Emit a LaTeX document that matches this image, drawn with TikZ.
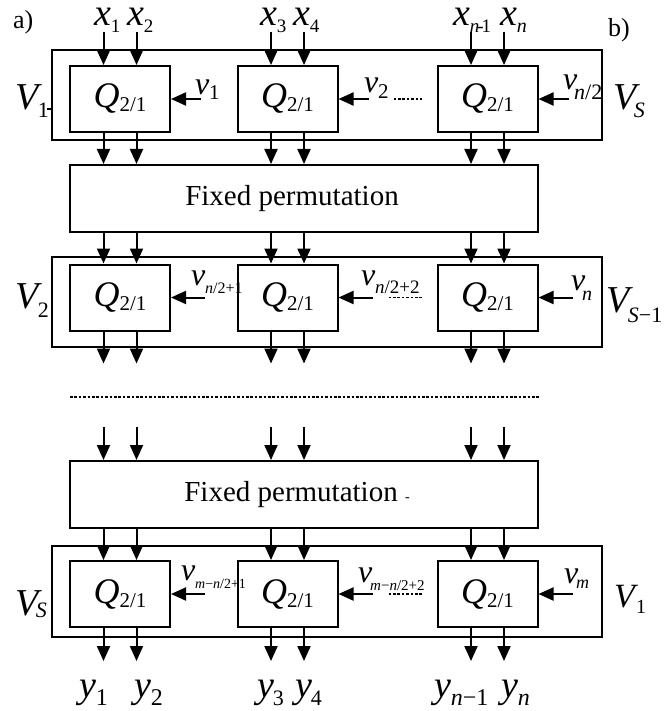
\documentclass[tikz,border=0pt]{standalone}
\usepackage{fontspec}
\setmainfont{Liberation Serif}
\usetikzlibrary{arrows.meta}
\usetikzlibrary{calc}
\usetikzlibrary{math}

% lowered index of a given size
\newcommand{\idx}[3][10]{\raisebox{#2}{\fontsize{#1}{#1}\selectfont #3}}
\newcommand{\qlab}[1]{\textit{Q}\kern#1\idx[10.5]{-2pt}{2/1}}

\tikzset{
  sig/.style={-{Triangle[length=7.5pt,width=6.5pt]}, line width=1pt},
  dots/.style={line width=0.8pt, dash pattern=on 1.3pt off 0.9pt},
  layer/.style={draw, line width=1pt, minimum width=275pt, inner sep=0pt},
  qbox/.style={draw, line width=1pt, minimum width=50pt, minimum height=33pt,
    inner sep=0pt, font=\fontsize{18}{18}\selectfont},
  permbox/.style={draw, line width=1pt, minimum width=234pt, minimum height=33.5pt,
    inner sep=0pt, font=\fontsize{14.5}{14.5}\selectfont},
  big/.style={font=\fontsize{19}{19}\selectfont, inner sep=0pt, anchor=base west},
  low/.style={big, text height=9.5pt},
  key/.style={font=\fontsize{16}{16}\selectfont, inner sep=0pt, anchor=base west},
  tag/.style={font=\fontsize{13}{13}\selectfont, inner sep=0pt, anchor=base west},
}

\begin{document}
\begin{tikzpicture}[x=0.5pt,y=-0.5pt,line width=1pt]

  \tikzmath{
    \tap  = 16.5; % half distance between the two lines of a box
    \lead = 33;   % length of the free input/output lines
  }

  \useasboundingbox (0,0) rectangle (672,711);

  % frames of the three layers
  \node[layer, minimum height=45pt]   (L1) at (327,95) {};
  \node[layer, minimum height=45pt]   (L2) at (327,302) {};
  \node[layer, minimum height=45.5pt] (L3) at (327,591.5) {};
  \draw ([yshift=-7pt]L1.west) -- ++(-4,0);

  % Q boxes, row r and column c
  \foreach \r/\h in {1/99, 2/297.5, 3/594}{
    \node[qbox] (q\r1) at (120,\h)   {\qlab{0pt}};
    \node[qbox] (q\r2) at (287.5,\h) {\qlab{0pt}};
    \node[qbox] (q\r3) at (487.5,\h) {\qlab{0pt}};
  }

  % permutation blocks
  \node[permbox] (P1) at (304,198.5) {Fixed permutation\kern12pt};
  \node[permbox] (P2) at (304,494.5) {Fixed permutation {\fontsize{7}{7}\selectfont -}\kern7pt};

  % vertical lines through all the blocks
  \foreach \c in {1,2,3}{
    \foreach \s in {-1,1}{
      \coordinate (t\c\s) at ($(q1\c.north)+(\s*\tap,0)$);
      \coordinate (in\c\s)  at ($(t\c\s |- q1\c.north)+(0,-\lead)$);
      \coordinate (out\c\s) at ($(t\c\s |- q2\c.south)+(0,32)$);
      \coordinate (re\c\s)  at ($(t\c\s |- P2.north)+(0,-\lead)$);
      \coordinate (end\c\s) at ($(t\c\s |- q3\c.south)+(0,\lead)$);
      \draw[sig] (in\c\s) -- (t\c\s |- q1\c.north);
      \draw[sig] (t\c\s |- q1\c.south) -- (t\c\s |- P1.north);
      \draw[sig] (t\c\s |- P1.south) -- (t\c\s |- q2\c.north);
      \draw[sig] (t\c\s |- q2\c.south) -- (out\c\s);
      \draw[sig] (re\c\s) -- (t\c\s |- P2.north);
      \draw[sig] (t\c\s |- P2.south) -- (t\c\s |- q3\c.north);
      \draw[sig] (t\c\s |- q3\c.south) -- (end\c\s);
    }
  }

  % side inputs v
  \foreach \r/\l in {1/30, 2/34, 3/34}{
    \foreach \c in {1,2,3}{
      \coordinate (s\r\c) at ($(q\r\c.east)+(\l,0)$);
      \draw[sig] (s\r\c) -- (q\r\c.east);
    }
  }
  \foreach \r/\a in {1/55, 2/50, 3/50}
    \draw[dots] ($(q\r2.east)+(\a,0)$) -- ($(q\r2.east)+(83,0)$);

  % dotted gap between the layers
  \coordinate (gapL) at (70,397);
  \draw[dots] (gapL) -- (gapL -| P1.east);

  % inputs
  \node[low] (x1) at (93,26)  {\textit{x}\idx[9.5]{-3.5pt}{1}};
  \node[low] (x2) at (126,26) {\textit{x}\idx[9.5]{-3.5pt}{2}};
  \node[low] (x3) at (259,26) {\textit{x}\idx[9.5]{-3.5pt}{3}};
  \node[low] (x4) at (292,26) {\textit{x}\idx[9.5]{-3.5pt}{4}};
  \node[low] (xn1) at (452,26) {\textit{x}\idx[9.5]{-3.5pt}{\textit{n}\kern-1pt-\kern-1pt1}};
  \node[low] (xn)  at (499,26) {\textit{x}\idx[10]{-3.5pt}{\textit{n}}};

  % outputs
  \node[big] (y1) at (78,697)  {\textit{y}\idx[12]{-4pt}{1}};
  \node[big] (y2) at (133,697) {\textit{y}\idx[12]{-4pt}{2}};
  \node[big] (y3) at (256,697) {\textit{y}\kern-0.5pt\idx[11]{-4pt}{3}};
  \node[big] (y4) at (294,697) {\textit{y}\kern-0.5pt\idx[11]{-4pt}{4}};
  \node[big] (yn1) at (433,697) {\textit{y}\idx[12]{-4pt}{\textit{n}−1}};
  \node[big] (yn)  at (500,697) {\textit{y}\idx[12]{-4pt}{\textit{n}}};

  % layer names
  \node[big] (V1)  at (14,110)  {\textit{V}\kern-2pt\idx[11]{-4pt}{1}};
  \node[big] (VS)  at (612,110) {\textit{V}\kern-3pt\idx[11]{-4pt}{\textit{S}}};
  \node[big] (V2)  at (14,308)  {\textit{V}\kern-2pt\idx[11]{-4.5pt}{2}};
  \node[big] (VS1) at (605,312) {\textit{V}\kern-2.5pt\idx[11]{-5pt}{\textit{S}−1}};
  \node[big] (VSb) at (14,615)  {\textit{V}\kern-3pt\idx[11]{-1pt}{\textit{S}}};
  \node[big, font=\fontsize{17}{17}\selectfont] (V1b) at (613,607) {\textit{V}\kern-1pt\idx[10]{-3pt}{1}};

  % keys
  \node[key] (v1)   at (194,95)  {\textit{v}\idx[10.5]{-2.5pt}{1}};
  \node[key] (v2)   at (363,93)  {\textit{v}\idx[10.5]{-3pt}{2}};
  \node[key] (vn2)  at (562,90)  {\textit{v}\kern-1.5pt\idx[11]{-5pt}{\textit{n}/2}};
  \node[key] (vn21) at (190,285) {\textit{v}\idx[8]{-4pt}{\textit{n}/2+1}};
  \node[key] (vn22) at (360,285) {\textit{v}\idx[9.5]{-4pt}{\textit{n}/2+2}};
  \node[key] (vn)   at (570,290) {\textit{v}\kern-1.5pt\idx[10]{-5pt}{\textit{n}}};
  \node[key] (vm1)  at (180,580) {\textit{v}\idx[7]{-4pt}{\textit{m}−\textit{n}/2+1}};
  \node[key] (vm2)  at (357,582) {\textit{v}\kern-1pt\idx[7.5]{-4pt}{\textit{m}−\textit{n}/2+2}};
  \node[key] (vm)   at (563,583) {\textit{v}\kern-1pt\idx[9]{-2.5pt}{\textit{m}}};

  % panel tags
  \node[tag] (a) at (12,29)  {a)};
  \node[tag] (b) at (607,37) {b)};

\end{tikzpicture}
\end{document}
